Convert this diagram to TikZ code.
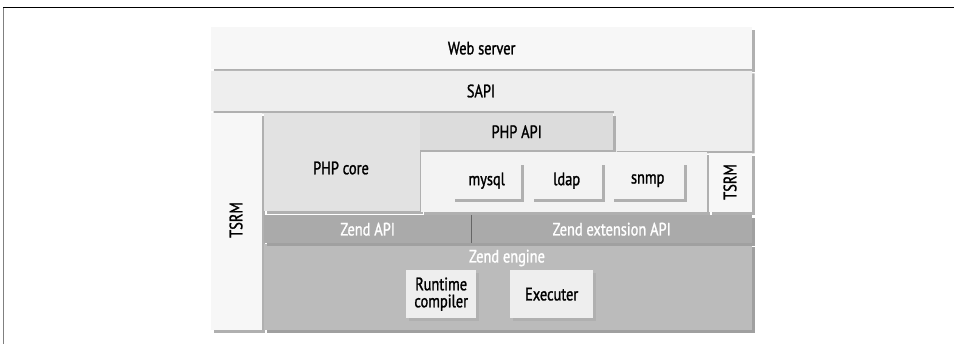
\documentclass[tikz,border=0pt]{standalone}
\usepackage{fontspec}
\setmainfont{PT Sans}[FakeStretch=0.8, UprightFeatures={FakeBold=1.3}]
\usepackage{tikz}
\usetikzlibrary{positioning,shadows}
\definecolor{phpPale}{RGB}{247,247,247}
\definecolor{phpSapi}{RGB}{238,238,238}
\definecolor{phpCore}{RGB}{226,226,226}
\definecolor{phpApi}{RGB}{220,220,220}
\definecolor{phpExt}{RGB}{243,243,243}
\definecolor{zendApi}{RGB}{170,170,170}
\definecolor{zendEng}{RGB}{187,187,187}
\definecolor{bevel}{RGB}{176,176,176}
\definecolor{bevelDark}{RGB}{160,160,160}

\begin{document}
\begin{tikzpicture}[
    x=1pt, y=-1pt,
    font=\fontsize{18}{18}\selectfont,
    layer/.style={rectangle, anchor=north west, inner sep=0pt, draw=none,
      copy shadow={shadow xshift=2.5pt, shadow yshift=-2.5pt, fill=bevel, draw=none}},
    zend layer/.style={layer, text=white,
      copy shadow={shadow xshift=2.5pt, shadow yshift=-2.5pt, fill=bevelDark, draw=none}},
    module node/.style={layer, fill=phpExt, align=center},
    rotated label/.style={rotate=90}
]
  \useasboundingbox (0,0) rectangle (954,344);
  % page frame
  \draw[black, line width=1pt] (3,7.5) -- (954,7.5);
  \draw[gray, line width=1.5pt] (3.5,8) -- (3.5,344);

  % top layers
  \node[layer, fill=phpPale, minimum width=541pt, minimum height=42pt] (web) at (211,27) {Web server};
  \fill[bevel] (213.5,73.5) -- (754.5,73.5) -- (754.5,153.5) -- (616.5,153.5) -- (616.5,113.5) -- (213.5,113.5) -- cycle;
  \fill[phpSapi] (211,71) -- (752,71) -- (752,151) -- (614,151) -- (614,111) -- (211,111) -- cycle;
  \node (sapi) at (481,91) {SAPI};

  % TSRM, PHP core, PHP API
  \node[layer, fill=phpPale, minimum width=51pt, minimum height=217pt] (tsrm) at (211,113) {};
  \node[rotated label] (tsrmText) at (236,220) {TSRM};
  \node[layer, fill=phpCore, minimum width=156pt, minimum height=98pt] (core) at (264,113) {};
  \node (coreText) at (341,168) {PHP core};
  \node[layer, fill=phpApi, minimum width=193pt, minimum height=37pt] (api) at (420,113) {PHP API};

  % extensions
  \node[layer, fill=phpExt, minimum width=286pt, minimum height=60pt] (ext) at (421,152) {};
  \node[module node, minimum width=69pt, minimum height=37pt] (mysql) at (452,162) {mysql};
  \node[module node, minimum width=71pt, minimum height=37pt] (ldap) at (531,162) {ldap};
  \node[module node, minimum width=73pt, minimum height=37pt] (snmp) at (611,162) {snmp};
  \node[layer, fill=phpPale, minimum width=43pt, minimum height=59pt] (tsrmRight) at (709,153) {};
  \node[rotated label] (tsrmRightText) at (730,182) {TSRM};

  % Zend
  \node[zend layer, fill=zendEng, minimum width=488pt, minimum height=86pt] (engine) at (264,244) {};
  \node[text=white] (engineText) at (507,258) {Zend engine};
  \node[zend layer, fill=zendApi, minimum width=207pt, minimum height=28pt] (zapi) at (264,215) {Zend API};
  \node[zend layer, fill=zendApi, minimum width=281pt, minimum height=28pt] (zext) at (471,215) {Zend extension API};
  \draw[gray!80!black, line width=0.8pt] (zapi.north east) -- (zapi.south east);
  \node[module node, fill=phpSapi, minimum width=70pt, minimum height=48pt, font=\fontsize{18}{17}\selectfont] (compiler) at (406,270) {Runtime\\compiler};
  \node[module node, fill=phpSapi, minimum width=83pt, minimum height=48pt] (exec) at (510,270) {Executer};
\end{tikzpicture}
\end{document}
